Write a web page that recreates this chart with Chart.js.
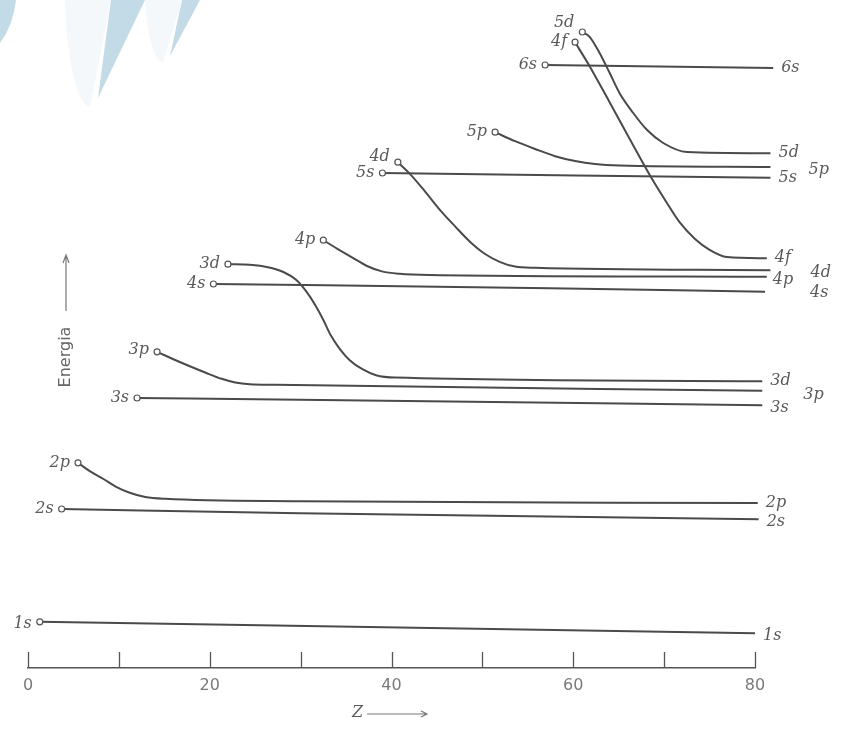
<!DOCTYPE html>
<html>
<head>
<meta charset="utf-8">
<title>Energia degli orbitali in funzione di Z</title>
<script src="https://cdn.jsdelivr.net/npm/chart.js@4/dist/chart.umd.min.js"></script>
<style>
  html, body { margin: 0; padding: 0; background: #fff; }
</style>
</head>
<body>
<canvas id="orbitali" width="844" height="731"></canvas>
<script>
// Z axis ticks (every 10, labelled every 20)
var zTicks = [0, 10, 20, 30, 40, 50, 60, 70, 80];

// orbital names, in drawing order
var orbitalNames = ['1s', '2s', '2p', '3s', '3p', '3d', '4s', '4p', '4d', '5s', '5p', '5d', '4f', '6s'];

// atomic number (Z) and energy, one pair of arrays per orbital
var z1s = [1.3, 80.0];
var e1s = [7.7, 5.8];

var z2s = [3.7, 29.9, 80.4];
var e2s = [26.5, 25.8, 24.8];

var z2p = [5.5, 6.8, 8.3, 9.7, 11.2, 12.9, 15.1, 29.9, 80.3];
var e2p = [34.2, 32.8, 31.5, 30.2, 29.2, 28.5, 28.2, 27.8, 27.5];

var z3s = [12.0, 29.9, 80.8];
var e3s = [45.0, 44.7, 43.8];

var z3p = [14.2, 16.7, 19.5, 21.3, 22.8, 24.4, 27.2, 80.8];
var e3p = [52.7, 51.0, 49.25, 48.2, 47.6, 47.3, 47.2, 46.2];

var z3d = [22.0, 24.4, 26.4, 28.1, 29.5, 30.6, 31.6, 32.5, 33.3, 34.3, 35.4, 36.8, 38.3, 40.4, 80.8];
var e3d = [67.3, 67.2, 66.8, 66.0, 64.7, 62.8, 60.5, 58.0, 55.5, 53.2, 51.3, 49.8, 48.8, 48.4, 47.8];

var z4s = [20.4, 57.4, 81.1];
var e4s = [64.0, 63.3, 62.7];

var z4p = [32.5, 34.0, 35.7, 37.3, 38.95, 40.9, 44.2, 81.3];
var e4p = [71.3, 69.9, 68.4, 67.0, 66.1, 65.7, 65.5, 65.2];

var z4d = [40.7, 42.0, 43.7, 45.3, 47.0, 48.6, 50.3, 51.9, 53.6, 55.8, 81.7];
var e4d = [84.3, 82.4, 79.4, 76.4, 73.6, 71.1, 69.0, 67.7, 66.9, 66.7, 66.3];

var z5s = [39.0, 81.7];
var e5s = [82.5, 81.7];

var z5p = [51.4, 53.6, 55.8, 58.0, 60.2, 62.4, 65.1, 81.7];
var e5p = [89.3, 87.8, 86.5, 85.3, 84.5, 84.0, 83.75, 83.5];

var z5d = [61.0, 61.8, 62.9, 64.0, 65.1, 66.6, 68.1, 69.9, 72.5, 81.7];
var e5d = [106.0, 105.2, 102.5, 99.2, 95.8, 92.5, 89.7, 87.5, 86.0, 85.8];

var z4f = [60.2, 61.8, 64.0, 66.2, 68.4, 70.1, 71.7, 73.4, 75.0, 76.9, 81.3];
var e4f = [104.3, 100.3, 94.3, 88.2, 82.2, 78.0, 74.3, 71.5, 69.7, 68.5, 68.3];

var z6s = [56.9, 82.0];
var e6s = [100.5, 100.0];

var zLists = [z1s, z2s, z2p, z3s, z3p, z3d, z4s, z4p, z4d, z5s, z5p, z5d, z4f, z6s];
var eLists = [e1s, e2s, e2p, e3s, e3p, e3d, e4s, e4p, e4d, e5s, e5p, e5d, e4f, e6s];

// Colors
var colors = {
	line: '#4a4a4a',
	text: '#5a5a5a',
	tick: '#7a7a7a',
	blue: '#c3dae7',
	pale: '#f5f8fa'
};

// label nudges (pixels) for the names at both ends of a curve
var leftNudge = { '1s': [0, 2], '4d': [0, -5], '5d': [0, -9], '3p': [0, -2] };
var rightNudge = {
	'1s': [0, 3], '2s': [0, 3], '3s': [0, 3], '4p': [-2, 3],
	'3p': [33, 4], '4d': [32, 3], '4s': [37, 1], '5p': [30, 3]
};

var datasets = orbitalNames.map(function(name, i) {
	var pts = zLists[i].map(function(z, k) {
		return { x: z, y: eLists[i][k] };
	});
	return { label: name, data: pts };
});

// light blue page decoration in the corner
var decoration = {
	id: 'decoration',
	beforeDraw: function(chart) {
		var ctx = chart.ctx;
		ctx.save();
		ctx.fillStyle = '#ffffff';
		ctx.fillRect(0, 0, chart.width, chart.height);

		ctx.fillStyle = colors.blue;
		ctx.beginPath();
		ctx.moveTo(0, 0); ctx.lineTo(16, 0);
		ctx.quadraticCurveTo(13, 26, 0, 43);
		ctx.closePath(); ctx.fill();

		ctx.beginPath();
		ctx.moveTo(111, 0); ctx.lineTo(145, 0); ctx.lineTo(98, 98);
		ctx.closePath(); ctx.fill();

		ctx.beginPath();
		ctx.moveTo(182, 0); ctx.lineTo(200, 0); ctx.lineTo(170, 56);
		ctx.closePath(); ctx.fill();

		ctx.fillStyle = colors.pale;
		ctx.beginPath();
		ctx.moveTo(65, 0);
		ctx.bezierCurveTo(66, 60, 78, 107, 90, 107);
		ctx.lineTo(111, 0);
		ctx.closePath(); ctx.fill();

		ctx.beginPath();
		ctx.moveTo(145, 0);
		ctx.bezierCurveTo(147, 35, 154, 62, 163, 62);
		ctx.lineTo(182, 0);
		ctx.closePath(); ctx.fill();
		ctx.restore();
	}
};

// tick marks stand up from the Z axis
var upTicks = {
	id: 'upTicks',
	afterDraw: function(chart) {
		var ctx = chart.ctx;
		var xs = chart.scales.x;
		var bottom = chart.chartArea.bottom;
		ctx.save();
		ctx.strokeStyle = '#555';
		ctx.lineWidth = 1.3;
		xs.ticks.forEach(function(t) {
			var px = Math.round(xs.getPixelForValue(t.value)) + 0.5;
			ctx.beginPath();
			ctx.moveTo(px, bottom);
			ctx.lineTo(px, bottom - 16);
			ctx.stroke();
		});

		// Z ---> under the axis
		ctx.fillStyle = colors.text;
		ctx.font = 'italic 16px "DejaVu Serif"';
		ctx.textAlign = 'left';
		ctx.textBaseline = 'middle';
		ctx.fillText('Z', 352, 713);
		ctx.strokeStyle = '#777';
		ctx.lineWidth = 1.2;
		ctx.beginPath();
		ctx.moveTo(367, 714); ctx.lineTo(427, 714);
		ctx.moveTo(421, 711); ctx.lineTo(427, 714); ctx.lineTo(421, 717);
		ctx.stroke();

		// Energia with its arrow
		ctx.save();
		ctx.translate(66, 357);
		ctx.rotate(-Math.PI / 2);
		ctx.font = '16px "DejaVu Sans"';
		ctx.textAlign = 'center';
		ctx.fillStyle = '#666';
		ctx.fillText('Energia', 0, 0);
		ctx.restore();
		ctx.beginPath();
		ctx.moveTo(66, 311); ctx.lineTo(66, 255);
		ctx.moveTo(63, 263); ctx.lineTo(66, 255); ctx.lineTo(69, 263);
		ctx.stroke();
		ctx.restore();
	}
};

// orbital names at the start and end of each curve
var nameLabels = {
	id: 'nameLabels',
	afterDatasetsDraw: function(chart) {
		var ctx = chart.ctx;
		ctx.save();
		ctx.font = 'italic 16px "DejaVu Serif"';
		ctx.fillStyle = colors.text;
		ctx.textBaseline = 'middle';
		chart.data.datasets.forEach(function(ds, i) {
			var pts = chart.getDatasetMeta(i).data;
			var first = pts[0];
			var last = pts[pts.length - 1];
			var lo = leftNudge[ds.label] || [0, 0];
			var ro = rightNudge[ds.label] || [0, 0];
			ctx.textAlign = 'right';
			ctx.fillText(ds.label, first.x - 8 + lo[0], first.y + lo[1]);
			ctx.textAlign = 'left';
			ctx.fillText(ds.label, last.x + 8 + ro[0], last.y + ro[1]);
		});
		ctx.restore();
	}
};

var ctx = document.getElementById('orbitali').getContext('2d');
var chart = new Chart(ctx, {
	type: 'line',
	data: { datasets: datasets },
	options: {
		responsive: false,
		animation: false,
		layout: { padding: { top: 20, left: 28, right: 89, bottom: 0 } },
		plugins: {
			legend: { display: false },
			tooltip: { enabled: false }
		},
		datasets: { line: { clip: false } },
		elements: {
			line: {
				borderColor: colors.line,
				borderWidth: 2,
				fill: false,
				cubicInterpolationMode: 'monotone'
			},
			point: {
				radius: function(c) { return c.dataIndex === 0 ? 3 : 0; },
				backgroundColor: '#ffffff',
				borderColor: '#555',
				borderWidth: 1.2
			}
		},
		scales: {
			x: {
				type: 'linear',
				min: 0,
				max: 80,
				afterFit: function(s) { s.height = 63; },
				afterBuildTicks: function(s) {
					s.ticks = zTicks.map(function(v) { return { value: v }; });
				},
				grid: { drawOnChartArea: false, drawTicks: false },
				border: { display: true, color: '#555', width: 1.5 },
				ticks: {
					autoSkip: false,
					maxRotation: 0,
					padding: 8,
					color: colors.tick,
					font: { family: 'DejaVu Sans', size: 16 },
					callback: function(v) { return v % 20 === 0 ? String(v) : ''; }
				}
			},
			y: { type: 'linear', min: 0, max: 108, display: false }
		}
	},
	plugins: [decoration, upTicks, nameLabels]
});
</script>
</body>
</html>
